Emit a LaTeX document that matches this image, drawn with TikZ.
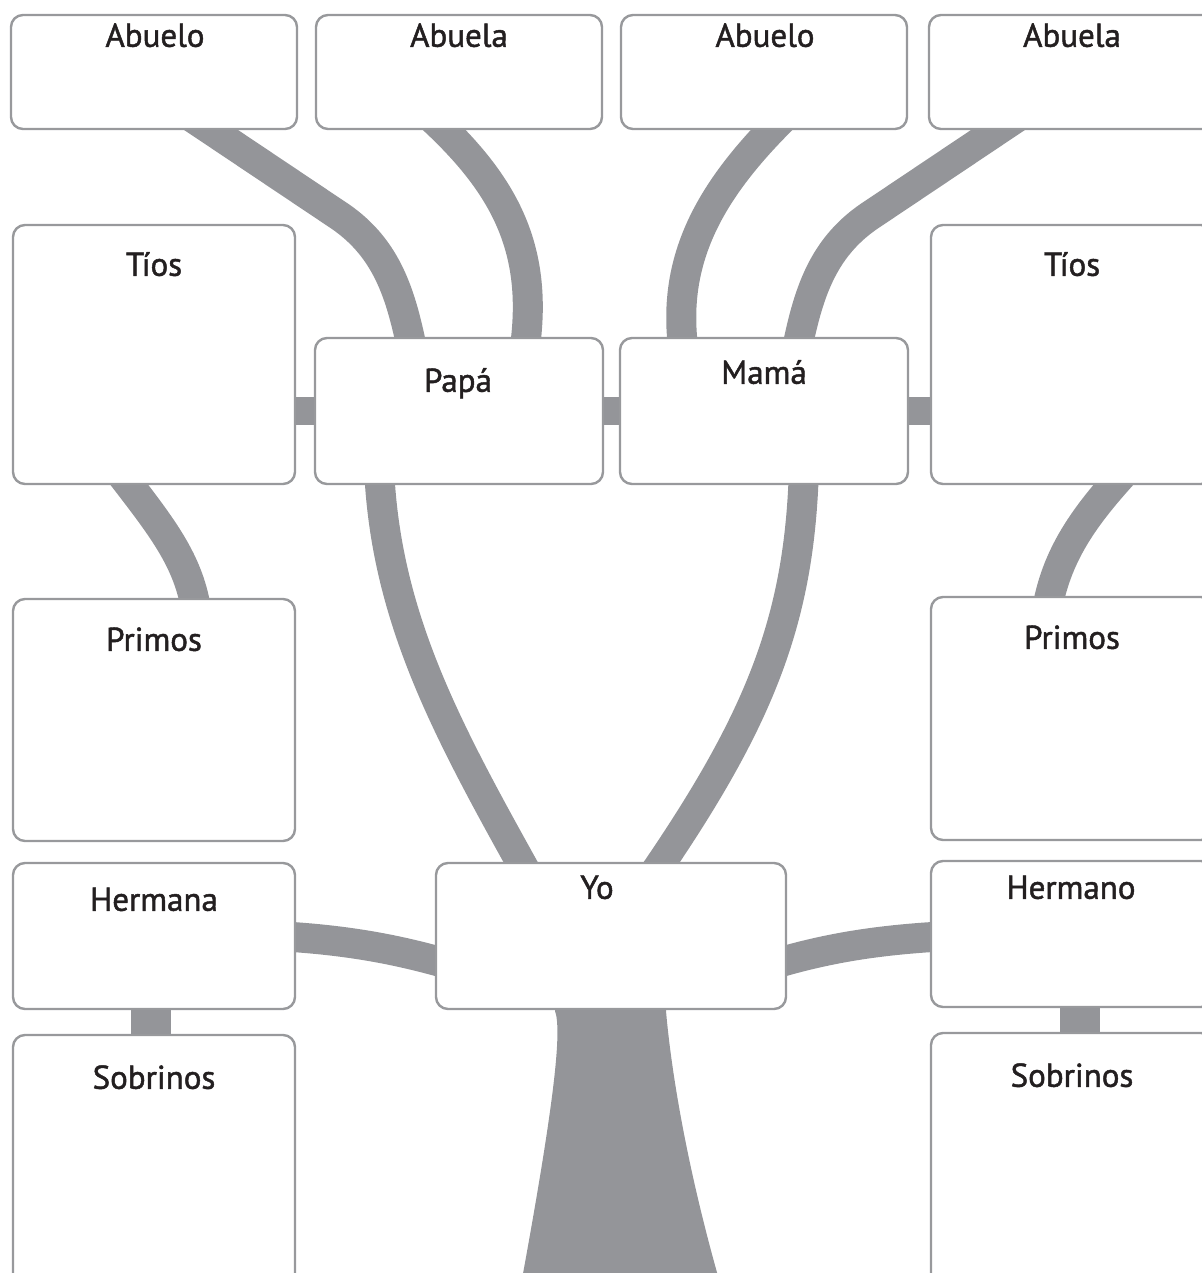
\documentclass[tikz,border=0pt]{standalone}
\usepackage{fontspec}
\setmainfont{PT Sans}[UprightFeatures={FakeBold=1.4}]
\usetikzlibrary{backgrounds,calc,fit,positioning}
\definecolor{bark}{RGB}{148,149,153}
\definecolor{rim}{RGB}{152,153,156}
\definecolor{ink}{RGB}{35,31,32}
\tikzset{card/.style={draw=rim,line width=1.2pt,rounded corners=6pt,fill=white,inner sep=0pt}}
\tikzset{cardtext/.style={anchor=base,inner sep=0pt,text=ink,font=\fontsize{16.5}{20}\selectfont}}
\tikzset{branch/.style={draw=bark,line width=15pt}}

\begin{document}
\begin{tikzpicture}[x=0.5pt,y=-0.5pt]
    \useasboundingbox (0,0) rectangle (1202,1273);
    % grandparents
    \node[card,fit={(11,15) (297,129)}]     (abueloP) {};
    \node[card,fit={(316,15) (602,129)}]    (abuelaP) {};
    \node[card,fit={(621,15) (907,129)}]    (abueloM) {};
    \node[card,fit={(929,15) (1215,129)}]   (abuelaM) {};
    % parents and uncles
    \node[card,fit={(13,225) (295,484)}]    (tiosP) {};
    \node[card,fit={(315,338) (603,484)}]   (papa) {};
    \node[card,fit={(620,338) (908,484)}]   (mama) {};
    \node[card,fit={(931,225) (1213,484)}]  (tiosM) {};
    % cousins
    \node[card,fit={(13,599) (295,841)}]    (primosP) {};
    \node[card,fit={(931,597) (1213,840)}]  (primosM) {};
    % siblings
    \node[card,fit={(13,863) (295,1009)}]   (hermana) {};
    \node[card,fit={(436,863) (786,1009)}]  (yo) {};
    \node[card,fit={(931,861) (1213,1007)}] (hermano) {};
    \node[card,fit={(13,1035) (295,1300)}]  (sobrinosP) {};
    \node[card,fit={(931,1033) (1213,1300)}] (sobrinosM) {};

    \node[cardtext] (tAbueloP) at ($(abueloP.north)+(1,33)$) {Abuelo};
    \node[cardtext] (tAbuelaP) at ($(abuelaP.north)+(0,33)$) {Abuela};
    \node[cardtext] (tAbueloM) at ($(abueloM.north)+(1,33)$) {Abuelo};
    \node[cardtext] (tAbuelaM) at ($(abuelaM.north)+(0,33)$) {Abuela};
    \node[cardtext] (tTiosP) at ($(tiosP.north)+(0,52)$) {Tíos};
    \node[cardtext] (tPapa) at ($(papa.north)+(-1,55)$) {Papá};
    \node[cardtext] (tMama) at ($(mama.north)+(0,47)$) {Mamá};
    \node[cardtext] (tTiosM) at ($(tiosM.north)+(0,52)$) {Tíos};
    \node[cardtext] (tPrimosP) at ($(primosP.north)+(0,53)$) {Primos};
    \node[cardtext] (tPrimosM) at ($(primosM.north)+(0,53)$) {Primos};
    \node[cardtext] (tHermana) at ($(hermana.north)+(0,49)$) {Hermana};
    \node[cardtext] (tYo) at ($(yo.north)+(-14,37)$) {Yo};
    \node[cardtext] (tHermano) at ($(hermano.north)+(-1,39)$) {Hermano};
    \node[cardtext] (tSobrinosP) at ($(sobrinosP.north)+(0,55)$) {Sobrinos};
    \node[cardtext] (tSobrinosM) at ($(sobrinosM.north)+(0,55)$) {Sobrinos};

    \begin{scope}[on background layer]
        \draw[branch] ($(abueloP.south)+(29,-19)$) -- (335,213)
            .. controls (385,245) and (400,290) .. ($(papa.north)+(-47,12)$);
        \draw[branch] ($(abuelaP.south)+(-29,-14)$)
            .. controls (505,185) and (540,250) .. ($(papa.north)+(65,17)$);
        \draw[branch] ($(abueloM.south)+(21,-14)$)
            .. controls (710,190) and (670,260) .. ($(mama.north)+(-80,17)$);
        \draw[branch] ($(abuelaM.south)+(-46,-19)$) -- (874,213)
            .. controls (824,245) and (809,290) .. ($(mama.north)+(33,12)$);
        \draw[branch,line width=14pt] (tiosP.east |- papa.west) -- (papa.west);
        \draw[branch,line width=14pt] (papa.east) -- (mama.west);
        \draw[branch,line width=14pt] (mama.east) -- (tiosM.west |- mama.east);
        \draw[branch] ($(papa.south)+(-80,-19)$)
            .. controls (385,620) and (450,735) .. ($(yo.north)+(-80,19)$);
        \draw[branch] ($(mama.south)+(40,-19)$)
            .. controls (800,620) and (760,720) .. ($(yo.north)+(38,19)$);
        \draw[branch] ($(tiosP.south)+(-39,-19)$)
            .. controls (160,525) and (190,560) .. ($(primosP.north)+(43,18)$);
        \draw[branch] ($(tiosM.south)+(58,-19)$)
            .. controls (1085,515) and (1055,555) .. ($(primosM.north)+(-26,20)$);
        \draw[branch] ($(hermana.east)+(-20,0)$)
            .. controls (350,940) and (400,950) .. ($(yo.west)+(20,30)$);
        \draw[branch] ($(yo.east)+(-20,30)$)
            .. controls (820,950) and (870,940) .. ($(hermano.west)+(20,2)$);
        \draw[branch,line width=20pt] (151,0 |- hermana.south) -- (151,0 |- sobrinosP.north);
        \draw[branch,line width=20pt] (1080,0 |- hermano.south) -- (1080,0 |- sobrinosM.north);
        \fill[bark] ($(yo.south)+(-56,-10)$) -- (555,1011)
            .. controls (562,1030) and (555,1100) .. (520,1290) -- (722,1290)
            .. controls (690,1180) and (672,1080) .. (666,1011)
            -- ($(yo.south)+(55,-10)$) -- cycle;
    \end{scope}
\end{tikzpicture}
\end{document}
